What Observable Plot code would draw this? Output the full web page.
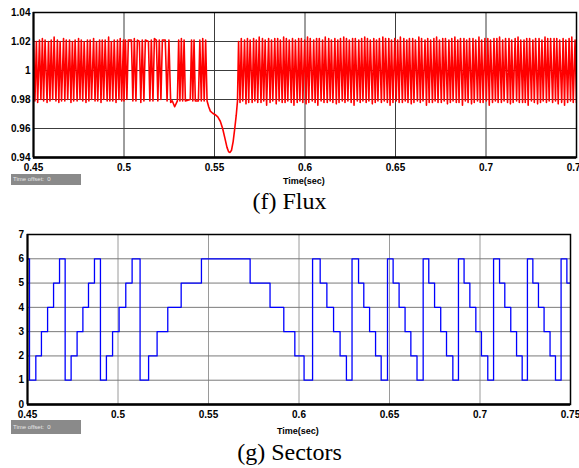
<!DOCTYPE html>
<html><head><meta charset="utf-8">
<script src="https://cdn.jsdelivr.net/npm/d3@7"></script>
<script src="https://cdn.jsdelivr.net/npm/@observablehq/plot@0.6"></script>
<style>
body{margin:0;background:#fff;}
#wrap{position:relative;width:579px;height:468px;overflow:hidden;background:#fff;font-family:"Liberation Sans",Arial,sans-serif;}
#wrap svg{position:absolute;left:0;}
.toff{position:absolute;left:11px;width:70px;background:#8a8a8a;color:#e8e8e8;font-size:6px;padding-left:2px;box-sizing:border-box;white-space:pre;}
.tlabel{position:absolute;font-weight:bold;font-size:9px;line-height:10px;color:#000;}
.cap{position:absolute;left:0;width:579px;text-align:center;font-family:"Liberation Serif","Times New Roman",serif;font-size:24px;line-height:24px;color:#000;}
</style></head>
<body><div id="wrap"></div>
<script>
// ---------- Flux (f) ----------
const fluxXTicks = [0.45, 0.5, 0.55, 0.6, 0.65, 0.7, 0.75];
const fluxXLabels = ["0.45", "0.5", "0.55", "0.6", "0.65", "0.7", "0.75"];
const fluxYTicks = [0.94, 0.96, 0.98, 1.0, 1.02, 1.04];
const fluxYLabels = ["0.94", "0.96", "0.98", "1", "1.02", "1.04"];

// region A: dense switching, start time (0.1 ms units), intervals, peak/trough deviations (1/1000), alternating +/-
const fluxAStart = 4500;
const fluxADt = [8,8,7,10,8,8,7,8,11,8, 8,7,8,8,10,8,8,7,8,11, 7,8,8,10,8,8,7,8,11,8, 8,7,8,8,10,8,8,7,8,11, 8,8,7,10,8,7,8,8,11,8, 7,8,8,8,10,8,8,7,8,10];
const fluxAAmp = [21,21,20,22,21,20,22,21,21,22, 20,21,21,20,23,21,21,22,20,21, 22,21,21,20,21,22,20,21,21,21, 22,20,21,21,20,22,21,21,21,20, 22,21,20,21,21,22,21,20,21,21, 23,21,20,21,21,22,21,20,22,21, 21];

// region B: sparser switching before the dip (time in 0.1 ms, signed deviation in 1/1000)
const fluxBTime = [5000,5008,5016,5024,5041,5049,5057,5066,5074,5085,5093,5101,5110,5118,5135,5143,5151,5160,5168,5179,5187,5195,5204,5212,5228,5238,5248,5258,5267,5280,5295,5302,5309,5317,5324,5332,5339,5366,5373,5380,5387,5394,5411,5419,5427,5435,5443,5451,5459];
const fluxBDev  = [-21,21,-20,21,21,-21,22,-21,21,20,-22,21,-21,21,20,-21,21,-21,22,21,-21,21,-20,21,21,-21,21,-22,-21,-25,-21,21,-21,22,-21,21,-21,-20,21,-21,21,-21,-21,21,-21,22,-21,21,-21];

// dip of the flux
const fluxDipTime = [5468,5477,5490,5504,5518,5532,5545,5558,5569,5578,5586,5594,5603,5611,5620,5627,5633];
const fluxDipDev  = [-25,-28,-29.5,-30.5,-32,-35,-40,-47,-53,-56,-56.5,-55,-49,-41,-31,-21,20];

// region C: dense switching after the dip
const fluxCStart = 5633;
const fluxCDt = [8,7,8,10,8,8,7,8,11,8, 7,8,8,8,10,8,7,8,8,11, 8,8,7,11,8,8,8,7,10,8, 8,7,8,8,11,7,8,8,10,8,
  7,8,8,10,8,8,7,8,11,8, 8,8,7,8,10,8,8,7,11,8, 8,7,8,11,8,8,7,8,10,8, 7,8,8,8,10,8,8,7,11,8,
  8,8,7,10,8,7,8,8,11,8, 8,7,8,8,11,8,8,7,10,8, 7,8,8,10,8,8,8,7,11,8, 8,8,7,8,10,8,7,8,11,8,
  8,7,8,11,8,7,8,8,10,8, 7,8,8,8,10,8,8,7,11,8, 8,8,7,10,8,8,7,8,11,8, 8,7,8,8,11,8,7,8,10,8,
  7,8,8,10,8,8,8,7,11,8, 8,8,7,8,10,7,8,8,11,8, 8,7,8,11,8,8,7,8,10,8, 7,8,8,8,10,8,8,7,11,8,
  8,8,7,10,8,7,8,8,11,8, 8,7,8,8,11,8,8,7,10,8, 8,7,8,10,8,8];
const fluxCAmp = [20,22,22,21,21,23,22,22,21,22, 22,21,21,22,23,22,22,21,21,24, 22,22,21,21,22,23,22,21,21,22, 23,22,22,21,21,22,22,24,21,22,
  22,21,22,22,21,23,23,22,22,21, 21,22,22,24,22,21,21,22,23,22, 22,21,21,22,22,23,21,22,22,21, 23,22,22,21,21,22,22,24,22,21,
  21,22,22,21,23,22,22,21,21,23, 22,22,21,21,22,22,23,21,22,22, 22,24,21,22,22,21,21,22,23,22, 22,21,21,22,22,23,22,22,21,21,
  23,22,22,21,21,24,22,22,21,22, 22,21,23,22,21,22,22,21,22,23, 21,22,22,21,23,22,21,22,22,24, 22,21,21,22,22,23,22,22,21,21,
  23,22,21,22,22,21,22,24,21,22, 22,21,22,22,23,22,21,21,22,22, 22,23,21,22,22,21,23,22,21,22, 21,22,22,24,22,21,21,22,22,23,
  22,22,21,21,23,22,22,21,22,22, 22,21,22,23,21,22,22,24,21,22, 22,21,23,22,21,22,22];

// ---------- Sectors (g) ----------
const secXTicks = [0.45, 0.5, 0.55, 0.6, 0.65, 0.7, 0.75];
const secXLabels = ["0.45", "0.5", "0.55", "0.6", "0.65", "0.7", "0.75"];
const secYTicks = [0, 1, 2, 3, 4, 5, 6, 7];
const secYLabels = ["0", "1", "2", "3", "4", "5", "6", "7"];
const secTime = [0.4500,0.4511,0.4546,0.4577,0.4611,0.4644,0.4677,0.4708,0.4741,0.4774,0.4806,0.4837,0.4870,0.4903,0.4936,0.4970,
  0.5006,0.5043,0.5078,0.5122,0.5169,0.5216,0.5275,0.5349,0.5461,0.5730,0.5840,0.5916,0.5977,0.6028,
  0.6075,0.6117,0.6154,0.6191,0.6227,0.6262,0.6293,0.6329,0.6358,0.6390,0.6423,0.6454,
  0.6489,0.6520,0.6553,0.6586,0.6618,0.6652,0.6686,0.6717,0.6749,0.6783,0.6815,0.6850,
  0.6881,0.6912,0.6944,0.6977,0.7008,0.7043,0.7075,0.7108,0.7137,0.7170,0.7202,0.7233,
  0.7262,0.7292,0.7323,0.7354,0.7387,0.7417,0.7448,0.7480,0.7500];
const secValue = [6,1,2,3,4,5,6,1,2,3,4,5,6,1,2,3,
  4,5,6,1,2,3,4,5,6,5,4,3,2,1,
  6,5,4,3,2,1,6,5,4,3,2,1,
  6,5,4,3,2,1,6,5,4,3,2,1,
  6,5,4,3,2,1,6,5,4,3,2,1,
  6,5,4,3,2,1,6,5,5];

// ---------- build tables ----------
const flux = [];
function addAlt(start, dts, amps) {
  let t = start;
  for (let i = 0; i < amps.length; i++) {
    const sign = i % 2 === 0 ? 1 : -1;
    flux.push({t: t / 10000, v: 1 + sign * amps[i] / 1000});
    if (i < dts.length) t += dts[i];
  }
}
addAlt(fluxAStart, fluxADt, fluxAAmp);
fluxBTime.forEach((t, i) => flux.push({t: t / 10000, v: 1 + fluxBDev[i] / 1000}));
fluxDipTime.forEach((t, i) => flux.push({t: t / 10000, v: 1 + fluxDipDev[i] / 1000}));
addAlt(fluxCStart, fluxCDt, fluxCAmp);

const sectors = secTime.map((t, i) => ({t, s: secValue[i]}));

const lab = (ticks, labels) => d => labels[ticks.findIndex(v => Math.abs(v - d) < 1e-9)];
const axStyle = {fontFamily: "Liberation Sans, Arial, sans-serif", fontSize: "10px", fontWeight: "bold", color: "#000", background: "transparent"};

const p1 = Plot.plot({
  width: 579, height: 172,
  marginLeft: 33, marginRight: 3, marginTop: 12, marginBottom: 15,
  x: {domain: [0.45, 0.75]},
  y: {domain: [0.94, 1.04]},
  style: axStyle,
  marks: [
    Plot.gridX(fluxXTicks, {stroke: "#3c3c3c", strokeOpacity: 1, strokeWidth: 1}),
    Plot.gridY(fluxYTicks, {stroke: "#3c3c3c", strokeOpacity: 1, strokeWidth: 1}),
    Plot.line(flux, {x: "t", y: "v", stroke: "#ff0000", strokeWidth: 1.6, clip: true}),
    Plot.frame({stroke: "#000", strokeWidth: 1.5}),
    Plot.ruleX([0.45], {stroke: "#000", strokeWidth: 2}),
    Plot.ruleY([0.94], {stroke: "#000", strokeWidth: 2.5}),
    Plot.axisX(fluxXTicks, {tickSize: 0, tickPadding: 6, tickFormat: lab(fluxXTicks, fluxXLabels), label: null}),
    Plot.axisY(fluxYTicks, {tickSize: 0, tickPadding: 3, tickFormat: lab(fluxYTicks, fluxYLabels), label: null})
  ]
});
p1.style.top = "0px";

const p2 = Plot.plot({
  width: 579, height: 196,
  marginLeft: 27, marginRight: 9, marginTop: 10, marginBottom: 16,
  x: {domain: [0.45, 0.75]},
  y: {domain: [0, 7]},
  style: axStyle,
  marks: [
    Plot.gridX(secXTicks, {stroke: "#9a9a9a", strokeOpacity: 1, strokeWidth: 1}),
    Plot.gridY(secYTicks, {stroke: "#7a7a7a", strokeOpacity: 1, strokeWidth: 1}),
    Plot.line(sectors, {x: "t", y: "s", curve: "step-after", stroke: "#0000ff", strokeWidth: 1.3, clip: true}),
    Plot.frame({stroke: "#000", strokeWidth: 1.5}),
    Plot.ruleX([0.45], {stroke: "#000", strokeWidth: 2}),
    Plot.ruleY([0], {stroke: "#000", strokeWidth: 2.5}),
    Plot.axisX(secXTicks, {tickSize: 0, tickPadding: 6, tickFormat: lab(secXTicks, secXLabels), label: null}),
    Plot.axisY(secYTicks, {tickSize: 0, tickPadding: 3.5, tickFormat: lab(secYTicks, secYLabels), label: null})
  ]
});
p2.style.top = "224px";

const wrap = document.getElementById("wrap");
wrap.appendChild(p1);
wrap.appendChild(p2);
wrap.insertAdjacentHTML("beforeend", `
  <div class="toff" style="top:174px;height:11px;line-height:11px;">Time offset:  0</div>
  <div class="tlabel" style="left:283px;top:176px;">Time(sec)</div>
  <div class="cap" style="top:189px;">(f) Flux</div>
  <div class="toff" style="top:420px;height:14px;line-height:14px;">Time offset:  0</div>
  <div class="tlabel" style="left:277px;top:426px;">Time(sec)</div>
  <div class="cap" style="top:440px;">(g) Sectors</div>
`);
</script>
</body></html>
